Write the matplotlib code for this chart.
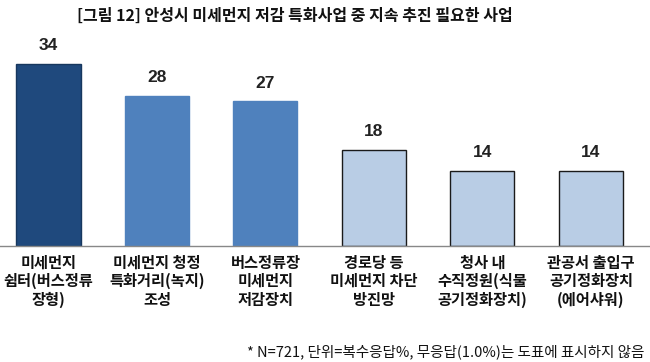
import matplotlib
matplotlib.use("Agg")
import matplotlib.pyplot as plt

plt.rcParams['font.family'] = ['Noto Sans CJK KR', 'DejaVu Sans']

categories = [
    "미세먼지\n쉼터(버스정류\n장형)",
    "미세먼지 청정\n특화거리(녹지)\n조성",
    "버스정류장\n미세먼지\n저감장치",
    "경로당 등\n미세먼지 차단\n방진망",
    "청사 내\n수직정원(식물\n공기정화장치)",
    "관공서 출입구\n공기정화장치\n(에어샤워)",
]
values = [34, 28, 27, 18, 14, 14]
colors = ["#1F497D", "#4F81BD", "#4F81BD", "#B9CDE5", "#B9CDE5", "#B9CDE5"]
edges = ["#17375E", "#4F81BD", "#4F81BD", "#1a1a1a", "#1a1a1a", "#1a1a1a"]

title = "[그림 12] 안성시 미세먼지 저감 특화사업 중 지속 추진 필요한 사업"
note = "* N=721, 단위=복수응답%, 무응답(1.0%)는 도표에 표시하지 않음"

fig = plt.figure(figsize=(6.5, 3.62), dpi=100)
ax = fig.add_axes([0, 0.3204, 1, 0.6243])

x = range(len(values))
ax.bar(x, values, width=0.59, color=colors, edgecolor=edges, linewidth=1.0)

for i, v in enumerate(values):
    ax.text(i, v + 2.0, str(v), ha="center", va="bottom",
            fontsize=12.5, fontweight="bold", color="#222222",
            family=['Liberation Sans Narrow', 'Liberation Sans', 'DejaVu Sans'])

for i, c in enumerate(categories):
    ax.text(i, -1.6, c, ha="center", va="top", fontsize=11,
            fontweight="bold", color="#111111", linespacing=1.2)

ax.set_xlim(-0.447, 5.544)
ax.set_ylim(0, 42.2)
for s in ["top", "right", "left"]:
    ax.spines[s].set_visible(False)
ax.spines["bottom"].set_color("#888888")
ax.spines["bottom"].set_linewidth(1.0)
ax.set_xticks([])
ax.set_yticks([])

fig.text(0.454, 0.957, title, ha="center", va="center",
         fontsize=11.5, fontweight="bold", color="#111111")
fig.text(0.992, 0.028, note, ha="right", va="center",
         fontsize=10.5, color="#111111")

fig.savefig("out.png", dpi=100)
